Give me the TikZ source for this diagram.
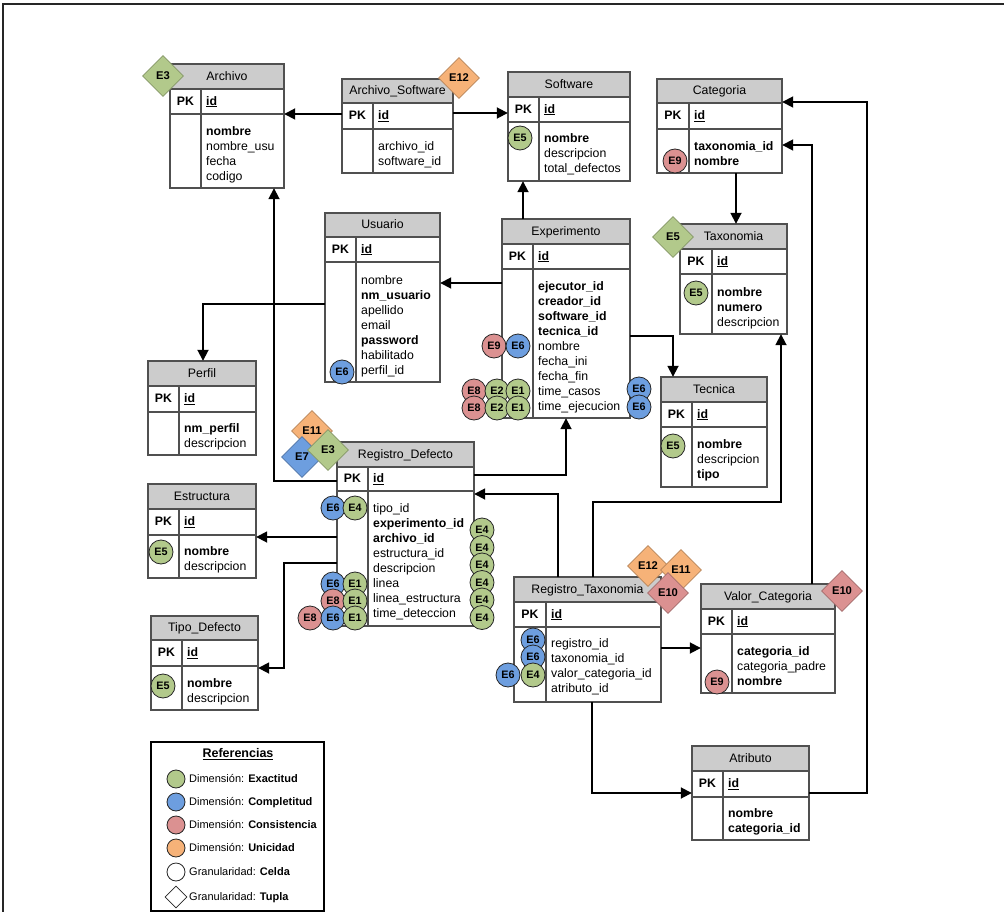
\documentclass[tikz,border=0pt]{standalone}
\usepackage{fontspec}
\setmainfont{Liberation Sans}
\usetikzlibrary{shapes.geometric,arrows.meta,fit}

\definecolor{verde}{RGB}{178,201,139}
\definecolor{azul}{RGB}{109,158,223}
\definecolor{rojo}{RGB}{219,145,145}
\definecolor{naranja}{RGB}{246,178,120}
\definecolor{cabecera}{RGB}{204,204,204}
\definecolor{borde}{RGB}{80,80,80}

% entity table: name, left, top, right, bottom, header bottom, PK-row bottom, column divider, title
\newcommand{\entidad}[9]{%
  \node[fit={(#2,#3) (#4,#5)}, inner sep=0pt] (#1) {};
  \filldraw[tbl, fill=white] (#2,#3) rectangle (#4,#5);
  \filldraw[tbl, fill=cabecera] (#2,#3) rectangle (#4,#6);
  \draw[tbl] (#2,#7) -- (#4,#7) (#8,#6) -- (#8,#5);
  \node[tf, anchor=mid] (#1-titulo) at ({(#2+#4)/2},{(#3+#6)/2+1}) {#9};
  \node[tf, anchor=mid] (#1-pk) at ({(#2+#8)/2},{(#6+#7)/2+1}) {\textbf{PK}};
  \node[tf, anchor=mid west] (#1-id) at ({#8+5},{(#6+#7)/2+1}) {\textbf{\underline{id}}};
}
% attribute rows: table name, divider x, first row y, list of rows
\newcommand{\campos}[4]{%
  \foreach \campo [count=\n from 0] in {#4}{%
    \node[tf, anchor=mid west] (#1-c\n) at ({#2+5},{#3+1.5+15*\n}) {\campo};}}
% quality marks
\newcommand{\celda}[5]{\node[badge, fill=#4] (#1) at (#2,#3) {#5};}
\newcommand{\tupla}[5]{\node[tag, fill=#4, draw=#4!75!black] (#1) at (#2,#3) {#5};}

\begin{document}
\begin{tikzpicture}[x=1pt, y=-1pt,
  tf/.style={font=\fontsize{12.3}{14}\selectfont, inner sep=0pt},
  tbl/.style={draw=borde, line width=1.1pt},
  arr/.style={line width=1.8pt, draw=black, -{Triangle[length=11pt,width=11pt]}},
  badge/.style={circle, draw=black!85, line width=0.8pt, minimum size=24pt, inner sep=0pt,
    font=\fontsize{10.8}{12}\selectfont\bfseries},
  tag/.style={diamond, minimum width=41pt, minimum height=41pt, inner sep=0pt, line width=0.8pt,
    font=\fontsize{11.2}{12}\selectfont\bfseries},
  leyc/.style={circle, draw=black!85, line width=0.8pt, minimum size=18pt, inner sep=0pt},
  leyt/.style={anchor=mid west, inner sep=0pt, font=\fontsize{11}{13}\selectfont}
]
\useasboundingbox (0,0) rectangle (1004,912);

% page frame
\draw[line width=2pt, black!85] (3,912) -- (3,4) -- (1004,4);

% tables
\entidad{archivo}{170}{64}{284}{188}{89}{114}{201}{Archivo}
\campos{archivo}{201}{131}{\textbf{nombre}, nombre\_usu, fecha, codigo}

\entidad{archsw}{342}{79}{453}{173}{103}{129}{373}{Archivo\_Software}
\campos{archsw}{373}{146}{archivo\_id, software\_id}

\entidad{software}{508}{72}{630}{181}{97}{122}{539}{Software}
\campos{software}{539}{138}{\textbf{nombre}, descripcion, total\_defectos}

\entidad{categoria}{657}{79}{782}{173}{103}{129}{689}{Categoria}
\campos{categoria}{689}{146}{\textbf{taxonomia\_id}, \textbf{nombre}}

\entidad{usuario}{325}{213}{440}{382}{237}{262}{356}{Usuario}
\campos{usuario}{356}{280}{nombre, \textbf{nm\_usuario}, apellido, email, \textbf{password}, habilitado, perfil\_id}

\entidad{experimento}{502}{219}{630}{418}{244}{269}{533}{Experimento}
\campos{experimento}{533}{286}{\textbf{ejecutor\_id}, \textbf{creador\_id}, \textbf{software\_id}, \textbf{tecnica\_id}, nombre, fecha\_ini, fecha\_fin, time\_casos, time\_ejecucion}

\entidad{taxonomia}{680}{224}{787}{334}{249}{274}{712}{Taxonomia}
\campos{taxonomia}{712}{292}{\textbf{nombre}, \textbf{numero}, descripcion}

\entidad{perfil}{148}{361}{256}{455}{386}{412}{179}{Perfil}
\campos{perfil}{179}{428}{\textbf{nm\_perfil}, descripcion}

\entidad{tecnica}{661}{377}{767}{487}{402}{427}{692}{Tecnica}
\campos{tecnica}{692}{444}{\textbf{nombre}, descripcion, \textbf{tipo}}

\entidad{regdef}{337}{442}{474}{626}{467}{491}{368}{Registro\_Defecto}
\campos{regdef}{368}{508}{tipo\_id, \textbf{experimento\_id}, \textbf{archivo\_id}, estructura\_id, descripcion, linea, linea\_estructura, time\_deteccion}

\entidad{estructura}{148}{484}{256}{578}{509}{535}{179}{Estructura}
\campos{estructura}{179}{551}{\textbf{nombre}, descripcion}

\entidad{tipodef}{151}{616}{258}{710}{640}{666}{182}{Tipo\_Defecto}
\campos{tipodef}{182}{683}{\textbf{nombre}, descripcion}

\entidad{regtax}{514}{577}{661}{702}{602}{627}{546}{Registro\_Taxonomia}
\campos{regtax}{546}{643}{registro\_id, taxonomia\_id, valor\_categoria\_id, atributo\_id}

\entidad{valcat}{701}{584}{835}{693}{609}{634}{732}{Valor\_Categoria}
\campos{valcat}{732}{651}{\textbf{categoria\_id}, categoria\_padre, \textbf{nombre}}

\entidad{atributo}{692}{746}{809}{840}{771}{797}{723}{Atributo}
\campos{atributo}{723}{813}{\textbf{nombre}, \textbf{categoria\_id}}

% relationships
\draw[arr] (archsw.west |- 0,114) -- (archivo.east |- 0,114);
\draw[arr] (archsw.east |- 0,113) -- (software.west |- 0,113);
\draw[arr] (experimento.north -| 523,0) -- (software.south -| 523,0);
\draw[arr] (experimento.west |- 0,283) -- (usuario.east |- 0,283);
\draw[arr] (experimento.east |- 0,336) -| (tecnica.north -| 673,0);
\draw[arr] (categoria.south -| 736,0) -- (taxonomia.north -| 736,0);
\draw[arr] (usuario.west |- 0,304) -| (perfil.north -| 203,0);
\draw[arr] (regdef.west |- 0,481) -| (archivo.south -| 274,0);
\draw[arr] (regdef.east |- 0,475) -| (experimento.south -| 566,0);
\draw[arr] (regdef.west |- 0,537) -- (estructura.east |- 0,537);
\draw[arr] (regdef.west |- 0,563) -- ++(-53,0) |- (tipodef.east |- 0,668);
\draw[arr] (regtax.north -| 558,0) |- (regdef.east |- 0,494);
\draw[arr] (regtax.north -| 593,0) -- ++(0,-75) -| (taxonomia.south -| 781,0);
\draw[arr] (regtax.east |- 0,648) -- (valcat.west |- 0,648);
\draw[arr] (regtax.south -| 592,0) |- (atributo.west |- 0,793);
\draw[arr] (valcat.north -| 812,0) |- (categoria.east |- 0,145);
\draw[arr] (atributo.east |- 0,793) -- ++(58,0) |- (categoria.east |- 0,102);

% quality marks per tuple
\tupla{archivo-e3}{163}{76}{verde}{E3}
\tupla{archsw-e12}{459}{78}{naranja}{E12}
\tupla{taxonomia-e5}{673}{237}{verde}{E5}
\tupla{regdef-e11}{312}{431}{naranja}{E11}
\tupla{regdef-e7}{302}{457}{azul}{E7}
\tupla{regdef-e3}{328}{450}{verde}{E3}
\tupla{regtax-e12}{648}{566}{naranja}{E12}
\tupla{regtax-e11}{681}{570}{naranja}{E11}
\tupla{regtax-e10}{668}{593}{rojo}{E10}
\tupla{valcat-e10}{842}{591}{rojo}{E10}

% quality marks per cell
\celda{software-e5}{520}{138}{verde}{E5}
\celda{categoria-e9}{675}{161}{rojo}{E9}
\celda{taxonomia-c5}{696}{293}{verde}{E5}
\celda{usuario-e6}{342}{372}{azul}{E6}
\celda{tecnica-e5}{673}{446}{verde}{E5}
\celda{estructura-e5}{161}{552}{verde}{E5}
\celda{tipodef-e5}{163}{686}{verde}{E5}
\celda{valcat-e9}{717}{682}{rojo}{E9}

\celda{exp-e9}{494}{346}{rojo}{E9}
\celda{exp-e6}{518}{346}{azul}{E6}
\celda{exp-e8a}{474}{391}{rojo}{E8}
\celda{exp-e2a}{497}{391}{verde}{E2}
\celda{exp-e1a}{518}{391}{verde}{E1}
\celda{exp-e8b}{474}{408}{rojo}{E8}
\celda{exp-e2b}{497}{408}{verde}{E2}
\celda{exp-e1b}{518}{408}{verde}{E1}
\celda{exp-e6a}{639}{389}{azul}{E6}
\celda{exp-e6b}{639}{407}{azul}{E6}

\celda{regdef-e6a}{333}{508}{azul}{E6}
\celda{regdef-e4a}{355}{508}{verde}{E4}
\foreach \y [count=\i] in {530,547.5,565,582.5,600,617.5}
  {\celda{regdef-r\i}{482}{\y}{verde}{E4}}
\celda{regdef-e6b}{333}{584}{azul}{E6}
\celda{regdef-e1b}{355}{584}{verde}{E1}
\celda{regdef-e8c}{333}{601}{rojo}{E8}
\celda{regdef-e1c}{355}{601}{verde}{E1}
\celda{regdef-e8d}{310}{618}{rojo}{E8}
\celda{regdef-e6d}{333}{618}{azul}{E6}
\celda{regdef-e1d}{355}{618}{verde}{E1}

\celda{regtax-e6a}{533}{640}{azul}{E6}
\celda{regtax-e6b}{533}{657}{azul}{E6}
\celda{regtax-e6c}{508}{675}{azul}{E6}
\celda{regtax-e4}{533}{675}{verde}{E4}

% legend
\node[draw=black, line width=1.3pt, fill=white, fit={(151,742) (324,911)}, inner sep=0pt] (leyenda) {};
\node[inner sep=0pt, font=\fontsize{12.5}{14}\selectfont\bfseries, anchor=mid] (ley-titulo) at (238,755) {\underline{Referencias}};
\node[leyc, fill=verde] (ley-c1) at (176,779) {};
\node[leyt] (ley-t1) at (189,780) {Dimensión: \textbf{Exactitud}};
\node[leyc, fill=azul] (ley-c2) at (176,802) {};
\node[leyt] (ley-t2) at (189,803) {Dimensión: \textbf{Completitud}};
\node[leyc, fill=rojo] (ley-c3) at (176,825) {};
\node[leyt] (ley-t3) at (189,826) {Dimensión: \textbf{Consistencia}};
\node[leyc, fill=naranja] (ley-c4) at (176,848) {};
\node[leyt] (ley-t4) at (189,849) {Dimensión: \textbf{Unicidad}};
\node[leyc, fill=white] (ley-c5) at (176,872) {};
\node[leyt] (ley-t5) at (189,873) {Granularidad: \textbf{Celda}};
\node[diamond, draw=black!85, line width=0.8pt, fill=white, minimum width=22pt, minimum height=22pt, inner sep=0pt] (ley-d6) at (176,897) {};
\node[leyt] (ley-t6) at (189,898) {Granularidad: \textbf{Tupla}};
\end{tikzpicture}
\end{document}
